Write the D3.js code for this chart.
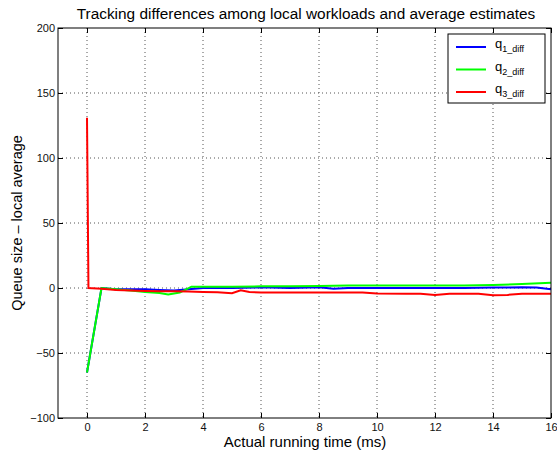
<!DOCTYPE html>
<html><head><meta charset="utf-8">
<script src="https://cdn.jsdelivr.net/npm/d3@7"></script>
<style>body{margin:0;background:#fff}text{font-family:"Liberation Sans",Arial,sans-serif}</style>
</head><body><svg id="c" width="557" height="454"></svg>
<script>
const xTicks=[0,2,4,6,8,10,12,14,16];
const yTicks=[-100,-50,0,50,100,150,200];
const q1X=[0,0.5,1,1.5,2,2.5,3,3.5,4,5,6,7,8,8.5,9,10,11,12,13,14,15,15.5,16];
const q1Y=[-65,0,-1,-1,-1,-1.5,-2,-1,0,0,0.5,0,0.5,-0.5,0,0,0,0,0,0.3,0.5,0.3,-1];
const q2X=[0,0.5,1,1.5,2,2.5,2.8,3.2,3.6,4,5,6,7,8,9,10,11,12,13,14,15,16];
const q2Y=[-65,0,-1,-2,-3,-3.8,-5,-3.5,1,1,1,1.3,1.3,1.5,2,2,2,2,2,2.3,3,4];
const q3X=[0,0.05,0.5,1,1.5,2,2.5,3,3.5,4,4.5,5,5.3,5.6,6,7,8,9,9.5,10,11,11.5,12,12.5,13,13.5,14,14.5,15,16];
const q3Y=[131,0,-0.5,-1.5,-2,-2.3,-2.5,-2.5,-2.6,-3,-3.2,-4,-1.8,-3,-3.5,-3.5,-3.5,-3.4,-3.5,-4.3,-4.4,-4.5,-5.3,-4.4,-4.4,-4.5,-5.5,-5.3,-4.4,-4.5];
const seriesNames=["1_diff","2_diff","3_diff"];
const colors=["#0000ff","#00ff00","#ff0000"];

const svg=d3.select("#c");
const L=58,R=551,T=28,B=418;
const x=d3.scaleLinear().domain([-1,16]).range([L,R]);
const y=d3.scaleLinear().domain([-100,200]).range([B,T]);
const fmt=d=>d<0?"\u2212"+Math.abs(d):""+d;

// grid
const g=svg.append("g");
xTicks.forEach(t=>{ if(x(t)>L+1&&x(t)<R-1) g.append("line").attr("x1",x(t)).attr("x2",x(t)).attr("y1",T).attr("y2",B).attr("stroke","#555").attr("stroke-width",1).attr("stroke-dasharray","1,3");});
yTicks.forEach(t=>{ if(y(t)>T+1&&y(t)<B-1) g.append("line").attr("x1",L).attr("x2",R).attr("y1",y(t)).attr("y2",y(t)).attr("stroke","#555").attr("stroke-width",1).attr("stroke-dasharray","1,3");});

// axes with inward ticks
const ax=svg.append("g").attr("transform",`translate(0,${B})`).call(d3.axisBottom(x).tickValues(xTicks).tickSizeInner(-5).tickSizeOuter(0).tickPadding(5));
const axT=svg.append("g").attr("transform",`translate(0,${T})`).call(d3.axisTop(x).tickValues(xTicks).tickSizeInner(-5).tickSizeOuter(0).tickFormat(""));
const ay=svg.append("g").attr("transform",`translate(${L},0)`).call(d3.axisLeft(y).tickValues(yTicks).tickSizeInner(-5).tickSizeOuter(0).tickPadding(3).tickFormat(fmt));
const ayR=svg.append("g").attr("transform",`translate(${R},0)`).call(d3.axisRight(y).tickValues(yTicks).tickSizeInner(-5).tickSizeOuter(0).tickFormat(""));
[ax,axT,ay,ayR].forEach(a=>{a.select(".domain").remove();a.selectAll("text").attr("font-size",11).attr("fill","#111").style("font-family","Liberation Sans, Arial, sans-serif");a.selectAll("line").attr("stroke","#000");});
ay.selectAll("text").attr("dy","0.32em");

// lines
const line=d3.line().x(d=>x(d[0])).y(d=>y(d[1]));
const data=[[q1X,q1Y],[q2X,q2Y],[q3X,q3Y]].map(([xs,ys])=>xs.map((v,i)=>[v,ys[i]]));
svg.append("defs").append("clipPath").attr("id","clip").append("rect").attr("x",L).attr("y",T).attr("width",R-L).attr("height",B-T);
data.forEach((d,i)=>svg.append("path").attr("d",line(d)).attr("fill","none").attr("stroke",colors[i]).attr("stroke-width",2).attr("clip-path","url(#clip)"));

// frame
svg.append("rect").attr("x",L).attr("y",T).attr("width",R-L).attr("height",B-T).attr("fill","none").attr("stroke","#000").attr("stroke-width",1);

// legend
const lg=svg.append("g");
lg.append("rect").attr("x",448).attr("y",34).attr("width",97).attr("height",69).attr("fill","#fff").attr("stroke","#000").attr("stroke-width",1);
seriesNames.forEach((n,i)=>{
  const yy=47+i*22.5;
  lg.append("line").attr("x1",456).attr("x2",486).attr("y1",yy).attr("y2",yy).attr("stroke",colors[i]).attr("stroke-width",2);
  const t=lg.append("text").attr("x",495).attr("y",yy+1).attr("font-size",13).attr("fill","#000");
  t.append("tspan").text("q");
  t.append("tspan").attr("font-size",9).attr("dy",4).text(n);
});

// titles
svg.append("text").attr("x",306).attr("y",19).attr("text-anchor","middle").attr("font-size",15.4).attr("fill","#000").text("Tracking differences among local workloads and average estimates");
svg.append("text").attr("x",305).attr("y",447).attr("text-anchor","middle").attr("font-size",15).attr("fill","#000").text("Actual running time (ms)");
svg.append("text").attr("transform","translate(22,223) rotate(-90)").attr("text-anchor","middle").attr("font-size",14.5).attr("fill","#000").text("Queue size \u2013 local average");
</script></body></html>
